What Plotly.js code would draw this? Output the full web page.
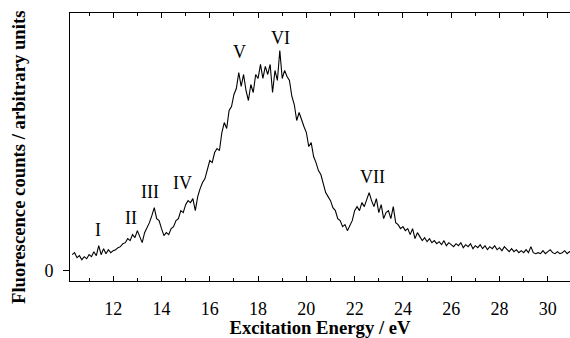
<!DOCTYPE html>
<html>
<head>
<meta charset="utf-8">
<script src="https://cdn.plot.ly/plotly-3.0.1.min.js"></script>
<style>html,body{margin:0;padding:0;background:#fff;}#chart{width:570px;height:338px;}</style>
</head>
<body>
<div id="chart"></div>
<script>
// Excitation energy (eV), step 0.1 from 10.3 to 31.0
const energyStart = 10.3;
const energyStep = 0.1;
// Fluorescence counts (arbitrary units)
const counts = [
  16,18,13,15,11,14,12,16,14,19,
  15,25,16,22,17,21,18,20,21,23,
  24,27,28,32,30,36,33,40,34,28,
  38,43,48,55,63,52,50,42,35,38,
  36,42,44,50,52,60,58,66,70,68,
  72,60,74,82,88,92,102,110,108,118,
  122,120,138,148,142,160,164,176,182,198,
  184,196,180,170,186,178,196,192,206,192,
  204,196,206,178,200,190,220,192,200,194,
  190,174,166,150,158,150,144,138,124,128,
  114,108,100,96,86,78,74,70,63,60,
  52,50,44,46,40,46,50,60,64,60,
  68,64,72,78,70,64,72,58,66,52,
  58,60,52,64,48,46,42,44,40,42,
  36,42,32,38,34,30,33,29,32,28,
  30,27,29,26,30,25,28,26,24,27,
  25,28,23,26,24,27,22,25,23,26,
  22,25,21,24,22,25,21,23,20,24,
  21,19,22,19,21,18,20,18,21,18,
  24,18,17,18,17,20,17,19,21,18,
  17,19,17,18,20,17,19,18
];
const energy = counts.map((_, i) => +(energyStart + i * energyStep).toFixed(2));

// Peak labels
const peakLabels = ["I", "II", "III", "IV", "V", "VI", "VII"];
const peakEnergy = [11.35, 12.73, 13.52, 14.86, 17.25, 18.91, 22.75];
const peakLabelY = [40.7, 52.4, 78.4, 87.4, 218, 232.7, 94];

const xTickVals = [12, 14, 16, 18, 20, 22, 24, 26, 28, 30];
const yTickVals = [0];
const yTickText = ["0"];
const yTitleText = 'Fluorescence counts / arbitrary units';
const xTitleText = 'Excitation Energy / eV';

const fontFam = '"Liberation Serif", "Times New Roman", Times, serif';
const xRange = [10.21, 30.92];

const trace = {
  x: energy, y: counts, type: 'scatter', mode: 'lines',
  line: {color: '#000', width: 1.1}, hoverinfo: 'skip', showlegend: false
};

const annotations = peakLabels.map((t, i) => ({
  x: peakEnergy[i], y: peakLabelY[i], xref: 'x', yref: 'y',
  text: t, showarrow: false, font: {family: fontFam, size: 18, color: '#000'},
  xanchor: 'center', yanchor: 'middle'
}));
annotations.push({
  x: -0.102, y: 0.459, xref: 'paper', yref: 'paper',
  text: '<b>' + yTitleText + '</b>', textangle: -90, showarrow: false,
  font: {family: fontFam, size: 18.7, color: '#000'},
  xanchor: 'center', yanchor: 'middle'
});

const layout = {
  width: 570, height: 338,
  margin: {l: 70, r: 0, t: 13, b: 57},
  paper_bgcolor: '#fff', plot_bgcolor: '#fff',
  font: {family: fontFam, size: 18, color: '#000'},
  showlegend: false,
  xaxis: {
    range: xRange, showgrid: false, zeroline: false,
    showline: true, linecolor: '#000', linewidth: 1,
    mirror: 'ticks',
    tickmode: 'array', tickvals: xTickVals,
    ticks: 'inside', ticklen: 5, tickwidth: 1, tickcolor: '#000',
    minor: {ticks: 'inside', dtick: 1, tick0: 0, ticklen: 3, tickwidth: 1, tickcolor: '#000', showgrid: false},
    tickfont: {family: fontFam, size: 18},
    ticklabelstandoff: 11,
    title: {text: '<b>' + xTitleText + '</b>', font: {family: fontFam, size: 18.7}, standoff: 3}
  },
  xaxis2: {
    overlaying: 'x', anchor: 'y', side: 'bottom',
    range: xRange, showgrid: false, zeroline: false, showline: false,
    tickmode: 'array', tickvals: xTickVals, showticklabels: false,
    ticks: 'outside', ticklen: 5, tickwidth: 1, tickcolor: '#000',
    minor: {ticks: 'outside', dtick: 1, tick0: 0, ticklen: 3, tickwidth: 1, tickcolor: '#000', showgrid: false}
  },
  yaxis: {
    range: [-10.3, 257.4], showgrid: false, zeroline: false,
    showline: true, linecolor: '#000', linewidth: 1,
    tickmode: 'array', tickvals: yTickVals, ticktext: yTickText,
    ticks: 'outside', ticklen: 6, tickwidth: 1, tickcolor: '#000',
    tickfont: {family: fontFam, size: 18},
    ticklabelstandoff: 6
  },
  annotations: annotations
};

Plotly.newPlot('chart', [trace], layout, {staticPlot: true, displayModeBar: false});
</script>
</body>
</html>
